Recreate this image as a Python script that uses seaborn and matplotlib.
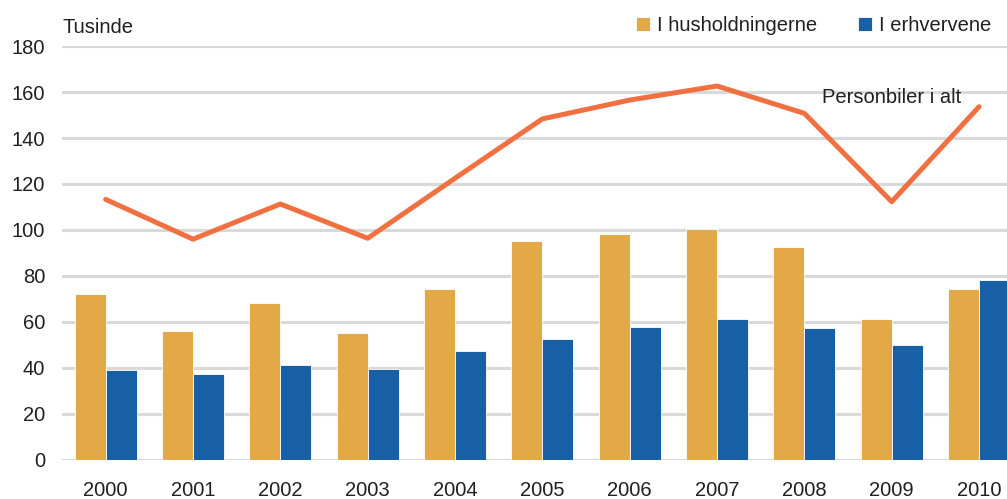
import numpy as np
import pandas as pd
import matplotlib.pyplot as plt
import seaborn as sns

# data (thousands)
years = ['2000', '2001', '2002', '2003', '2004', '2005', '2006', '2007', '2008', '2009', '2010']
households = [72.2, 56.1, 68.1, 55.3, 74.5, 95.1, 98.3, 100.4, 92.5, 61.3, 74.5]
business = [39.0, 37.5, 41.2, 39.6, 47.3, 52.6, 57.7, 61.2, 57.3, 49.9, 78.3]
total = [113.3, 96.0, 111.3, 96.4, 122.5, 148.3, 156.5, 162.6, 150.7, 112.3, 153.6]
series_names = ['I husholdningerne', 'I erhvervene']
line_label = 'Personbiler i alt'

df = pd.DataFrame({
    'year': years * 2,
    'value': households + business,
    'group': [series_names[0]] * len(years) + [series_names[1]] * len(years),
})

sns.set_theme(style="white")
plt.rcParams['font.family'] = ['Liberation Sans Narrow', 'Liberation Sans', 'DejaVu Sans']
text_color = '#231F20'

fig = plt.figure(figsize=(10.07, 4.99), dpi=100)
ax = fig.add_axes([0.0616, 0.0782, 0.9384, 0.8296])

# gridlines behind everything
ax.set_axisbelow(True)
ax.yaxis.grid(True, color='#D9D9D9', linewidth=2.2)

sns.barplot(data=df, x='year', y='value', hue='group', hue_order=series_names,
            palette=['#E3A946', '#1860A6'], width=0.71, gap=0, saturation=1,
            edgecolor='white', linewidth=0.6, ax=ax)

sns.lineplot(x=np.arange(len(years)), y=total, color='#F07041', linewidth=3.6,
             ax=ax, legend=False)
ax.text(8.2, 157.8, line_label, fontsize=14.5, color=text_color, ha='left', va='center')

ax.set_ylim(0, 180)
ax.set_yticks(range(0, 181, 20))
ax.set_xlim(-0.5, 10.32)
ax.set_xlabel('')
ax.set_ylabel('')
sns.despine(ax=ax, left=True, bottom=True, top=True, right=True)
ax.tick_params(axis='both', length=0, labelsize=14.5, colors=text_color)
ax.tick_params(axis='x', pad=15)
ax.tick_params(axis='y', pad=12)
for lbl in ax.get_yticklabels():
    lbl.set_horizontalalignment('right')

fig.text(0.0616, 0.944, 'Tusinde', fontsize=14.5, color=text_color, ha='left', va='center')

handles, labels = ax.get_legend_handles_labels()
ax.legend(handles[:2], labels[:2], loc='center right', bbox_to_anchor=(0.983, 1.05),
          ncol=2, frameon=False, fontsize=14.5, handlelength=0.7, handleheight=0.7,
          handletextpad=0.35, columnspacing=2.0, labelcolor=text_color,
          borderpad=0, borderaxespad=0)

fig.savefig('out.png', dpi=100)
